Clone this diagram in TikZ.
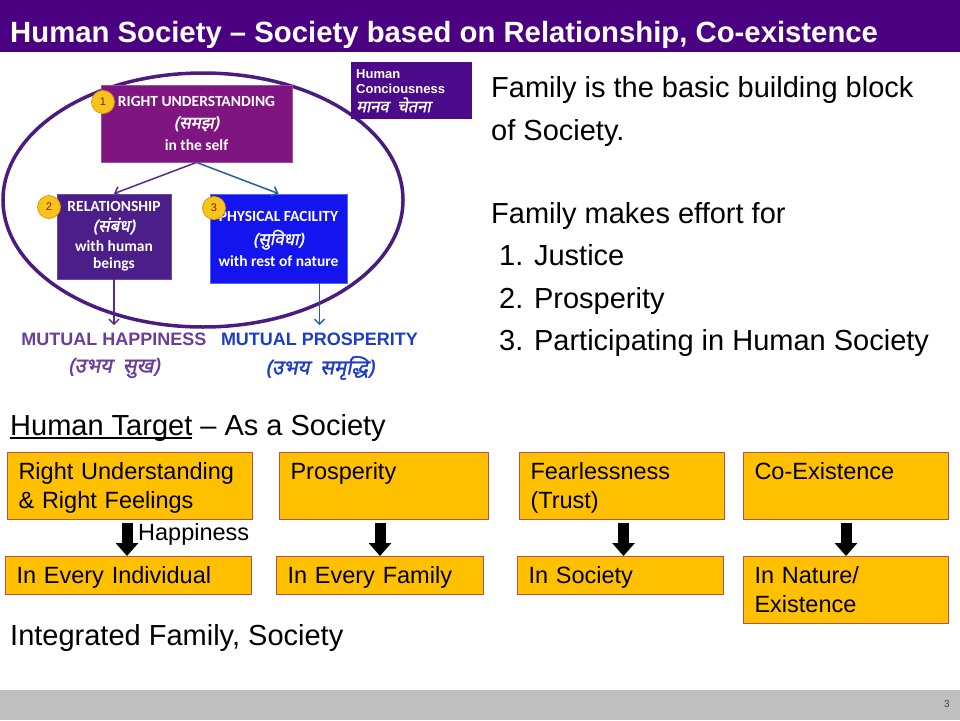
\documentclass[tikz,border=0pt]{standalone}
\usepackage{fontspec}
\setmainfont{Liberation Sans}
\newfontfamily\calfont{Carlito}
\newfontfamily\devai[Script=Devanagari,FakeSlant=0.2,FakeBold=1.5]{Noto Sans}
\usetikzlibrary{arrows.meta,shapes.geometric,calc}
\definecolor{titlebg}{HTML}{4B0082}
\definecolor{puone}{HTML}{7F1580}
\definecolor{puoneb}{HTML}{A050A8}
\definecolor{putwo}{HTML}{4B1E8A}
\definecolor{putwob}{HTML}{6A4AA8}
\definecolor{blthree}{HTML}{1414EE}
\definecolor{blthreeb}{HTML}{4A6AF0}
\definecolor{hcc}{HTML}{4B0A8A}
\definecolor{ellc}{HTML}{4B1C80}
\definecolor{arrpu}{HTML}{5A2A8A}
\definecolor{arrbl}{HTML}{2A5CA0}
\definecolor{mhc}{HTML}{6A3C9C}
\definecolor{mpc}{HTML}{1E3CCC}
\definecolor{yel}{HTML}{FFC000}
\definecolor{ybd}{HTML}{C0504D}
\definecolor{numfill}{HTML}{F6C41C}
\definecolor{numbd}{HTML}{E39B00}
\definecolor{numtext}{HTML}{8A1A00}
\definecolor{footc}{HTML}{BFBFBF}
\tikzset{
  diagbox/.style={font=\calfont\bfseries\fontsize{15.5}{18}\selectfont, text=white, align=center, inner sep=0pt, draw, line width=0.8pt},
  numc/.style={circle, fill=numfill, draw=numbd, line width=0.8pt, minimum size=23pt, inner sep=0pt, text=numtext, font=\fontsize{11}{12}\selectfont},
  thinarr/.style={line width=1.5pt, -{Straight Barb[length=5pt,width=10pt]}},
  bodytxt/.style={anchor=base west, inner sep=0pt, font=\fontsize{29}{34}\selectfont},
  ybox/.style={fill=yel, draw=ybd, line width=1pt, align=left, inner xsep=11pt, inner ysep=0pt, text height=27pt, anchor=north west, font=\fontsize{23.5}{28.5}\selectfont},
  barrow/.style={line width=11pt, -{Triangle[length=13pt,width=22pt]}, shorten <=3pt},
  mutual/.style={anchor=base, inner sep=0pt, font=\bfseries\fontsize{18}{20}\selectfont},
  devlab/.style={anchor=center, inner sep=0pt, font=\devai\fontsize{20.5}{22}\selectfont}
}
\newcommand{\dv}[1]{{\devai\mdseries\fontsize{17}{18}\selectfont #1}}
\begin{document}
\begin{tikzpicture}[x=1pt,y=-1pt]
\useasboundingbox (0,0) rectangle (960,720);
% title bar
\node[fill=titlebg, anchor=north west, minimum width=960pt, minimum height=52pt, inner sep=0pt] (titlebar) at (0,0) {};
\node[anchor=base west, inner sep=0pt, text=white, font=\bfseries\fontsize{29.3}{34}\selectfont] (title) at (10,42) {Human Society – Society based on Relationship, Co-existence};
% ellipse
\node[ellipse, draw=ellc, line width=3.5pt, minimum width=400pt, minimum height=254pt, inner sep=0pt] (ell) at (203,200) {};
% human consciousness box
\node[fill=hcc, anchor=north west, text height=16pt, text depth=41pt, text width=111pt, inner xsep=5pt, inner ysep=0pt, align=left, text=white, font=\bfseries\fontsize{13}{15}\selectfont] (hc) at (351,62) {Human\\Conciousness\\[4pt]{\devai\mdseries\fontsize{16.5}{17}\selectfont मानव\ \ चेतना}};
% diagram boxes
\node[diagbox, fill=puone, draw=puoneb, minimum width=191pt, minimum height=77pt] (b1) at (196.5,123.5) {RIGHT UNDERSTANDING\\[4pt]\dv{(समझ)}\\[4pt]in the self};
\node[diagbox, fill=putwo, draw=putwob, minimum width=114pt, minimum height=85pt] (b2) at (114,236.5) {RELATIONSHIP\\[2pt]\dv{(संबंध)}\\[2pt]with human\\[-1pt]beings};
\node[diagbox, fill=blthree, draw=blthreeb, minimum width=137pt, minimum height=89pt] (b3) at (278.5,238.5) {PHYSICAL FACILITY\\[6pt]\dv{(सुविधा)}\\[3pt]with rest of nature};
\node[numc] (n1) at (103,102) {1};
\node[numc] (n2) at (49,207) {2};
\node[numc] (n3) at (214,208) {3};
% labels under
\node[mutual, text=mhc] (mh) at (114,345) {MUTUAL HAPPINESS};
\node[mutual, text=mpc] (mp) at (319.5,345) {MUTUAL PROSPERITY};
\node[devlab, text=mhc] (mhd) at (114,368) {(उभय\ \ सुख)};
\node[devlab, text=mpc] (mpd) at (320,368) {(उभय\ \ समृद्धि)};
% arrows
\draw[thinarr, arrpu] (b1.south) -- (b2.north);
\draw[thinarr, arrbl] (b1.south) -- (b3.north);
\draw[thinarr, arrpu, shorten >=7pt] (b2.south) -- (b2.south |- mh.north);
\draw[thinarr, arrbl, shorten >=7pt] (mp.north |- b3.south) -- (mp.north);
% right text
\node[bodytxt] (r1) at (491,97) {Family is the basic building block};
\node[bodytxt] (r2) at (491,140) {of Society.};
\node[bodytxt] (r3) at (491,223) {Family makes effort for};
\node[bodytxt] (r4) at (499,265) {1. Justice};
\node[bodytxt] (r5) at (499,308) {2. Prosperity};
\node[bodytxt] (r6) at (499,350) {3. Participating in Human Society};
% human target
\node[bodytxt] (ht) at (10,435) {Human Target – As a Society};
\draw[line width=1.3pt] (ht.base west) ++(0,3) -- ++(182,0);
% yellow boxes row 1
\node[ybox, text width=223pt, text depth=40pt] (t1) at (7,452) {Right Understanding\\\& Right Feelings};
\node[ybox, text width=187pt, text depth=40pt] (t2) at (279,452) {Prosperity};
\node[ybox, text width=183pt, text depth=40pt] (t3) at (519,452) {Fearlessness\\(Trust)};
\node[ybox, text width=183pt, text depth=40pt] (t4) at (743,452) {Co-Existence};
% row 2
\node[ybox, text width=224pt, text depth=11pt] (u1) at (5,556) {In Every Individual};
\node[ybox, text width=185pt, text depth=11pt] (u2) at (276,556) {In Every Family};
\node[ybox, text width=184pt, text depth=11pt] (u3) at (517,556) {In Society};
\node[ybox, text width=183pt, text depth=40pt] (u4) at (743,556) {In Nature/\\Existence};
% block arrows
\draw[barrow] ([xshift=-3pt]t1.south) -- ([xshift=-3pt]t1.south |- u1.north);
\draw[barrow] ([xshift=-4pt]t2.south) -- ([xshift=-4pt]t2.south |- u2.north);
\draw[barrow] ([xshift=1.5pt]t3.south) -- ([xshift=1.5pt]t3.south |- u3.north);
\draw[barrow] (t4.south) -- (t4.south |- u4.north);
\node[anchor=base west, inner sep=0pt, font=\fontsize{23.5}{28}\selectfont] (hap) at (138,540) {Happiness};
% integrated
\node[bodytxt] (itg) at (10,645) {Integrated Family, Society};
% footer
\node[fill=footc, anchor=south west, minimum width=960pt, minimum height=30pt, inner sep=0pt] (foot) at (0,720) {};
\node[inner sep=0pt, text=black!75, font=\fontsize{10}{12}\selectfont] (pg) at (947,704) {3};
\end{tikzpicture}
\end{document}
